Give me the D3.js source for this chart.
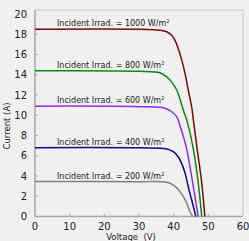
<!DOCTYPE html>
<html>
<head>
<meta charset="utf-8">
<script src="https://cdn.jsdelivr.net/npm/d3@7"></script>
<style>
  body { margin: 0; background: #f0f0f0; }
  svg { display: block; font-family: "DejaVu Sans", sans-serif; }
</style>
</head>
<body>
<div class="chart"></div>
<script>
// irradiance levels, label text and curve colours
var irradiance = [1000, 800, 600, 400, 200];
var colors = ["#7b0a0a", "#0a8a0a", "#8f2cf0", "#0a0a8c", "#808080"];

// I-V curves: [voltage, current]
var curve1000 = [[0, 18.5], [30, 18.5], [36, 18.4], [38, 18.25], [39.4, 17.9], [40.4, 17.4], [41.3, 16.6], [42.3, 15.5],
  [43.3, 14.1], [44.2, 12.5], [45.2, 10.8], [45.7, 9.5], [46.8, 6.6], [48.1, 3.3], [49.0, 0]];
var curve800 = [[0, 14.4], [30, 14.35], [36, 14.2], [38, 13.8], [39.4, 13.3], [40.9, 12.5], [41.9, 11.5], [42.8, 10.5],
  [43.8, 9.5], [45.7, 6.6], [47.1, 3.3], [48.1, 0]];
var curve600 = [[0, 10.9], [30, 10.85], [37.5, 10.7], [39.4, 10.35], [40.9, 9.85], [41.8, 9.0], [42.8, 7.9], [43.8, 6.6],
  [44.7, 4.9], [45.7, 2.9], [46.6, 1.0], [47.1, 0]];
var curve400 = [[0, 6.8], [30, 6.78], [38, 6.67], [39.9, 6.4], [41.3, 5.9], [42.3, 5.25], [43.3, 4.27], [44.2, 2.94],
  [45.2, 1.63], [46.4, 0]];
var curve200 = [[0, 3.45], [30, 3.44], [38, 3.38], [39.9, 3.11], [41.3, 2.69], [42.8, 1.96], [43.8, 1.30], [44.7, 0.47],
  [45.5, 0]];
var curves = [curve1000, curve800, curve600, curve400, curve200];

var xTicks = [0, 10, 20, 30, 40, 50, 60];
var yTicks = [0, 2, 4, 6, 8, 10, 12, 14, 16, 18, 20];

var width = 249,
  height = 241;
var mLeft = 35, mRight = 243, mTop = 10, mBottom = 216.5;

var svg = d3.select(".chart").append("svg")
  .attr("width", width)
  .attr("height", height);

var x = d3.scaleLinear().domain([0, 60]).range([mLeft, mRight]);
var y = d3.scaleLinear().domain([0, 20.4]).range([mBottom, mTop]);

// frame: light top/right border
svg.append("path")
  .attr("d", "M" + mLeft + "," + mTop + "H" + mRight + "V" + mBottom)
  .attr("fill", "none")
  .attr("stroke", "#c8c8c8")
  .attr("stroke-width", 1);

// ticks inside the plot
svg.selectAll(".ytick").data(yTicks.slice(1, -1)).enter().append("line")
  .attr("x1", mLeft).attr("x2", mLeft + 3)
  .attr("y1", function (d) { return y(d); }).attr("y2", function (d) { return y(d); })
  .attr("stroke", "#b0b0b0");
svg.selectAll(".xtick").data(xTicks.slice(1, -1)).enter().append("line")
  .attr("y1", mBottom).attr("y2", mBottom - 3)
  .attr("x1", function (d) { return x(d); }).attr("x2", function (d) { return x(d); })
  .attr("stroke", "#b0b0b0");

// axes lines
svg.append("path")
  .attr("d", "M" + mLeft + "," + mTop + "V" + mBottom + "H" + mRight)
  .attr("fill", "none")
  .attr("stroke", "#a8a8a8")
  .attr("stroke-width", 1.5);

// tick labels
svg.selectAll(".ylab").data(yTicks).enter().append("text")
  .attr("x", mLeft - 8)
  .attr("y", function (d) { return y(d); })
  .attr("dy", "0.35em")
  .attr("text-anchor", "end")
  .attr("font-size", 10)
  .attr("fill", "#222")
  .text(function (d) { return d; });
svg.selectAll(".xlab").data(xTicks).enter().append("text")
  .attr("x", function (d) { return x(d); })
  .attr("y", 230)
  .attr("text-anchor", "middle")
  .attr("font-size", 10)
  .attr("fill", "#222")
  .text(function (d) { return d; });

// axis titles
svg.append("text")
  .attr("x", 131).attr("y", 240)
  .attr("text-anchor", "middle")
  .attr("font-size", 8.5)
  .attr("fill", "#222")
  .attr("xml:space", "preserve")
  .text("Voltage  (V)");
svg.append("text")
  .attr("transform", "translate(10,126) rotate(-90)")
  .attr("text-anchor", "middle")
  .attr("font-size", 8.5)
  .attr("fill", "#222")
  .text("Current (A)");

// curves
var line = d3.line()
  .x(function (d) { return x(d[0]); })
  .y(function (d) { return y(d[1]); })
  .curve(d3.curveCatmullRom.alpha(0.5));

svg.selectAll(".curve").data(curves).enter().append("path")
  .attr("d", line)
  .attr("fill", "none")
  .attr("stroke", function (d, i) { return colors[i]; })
  .attr("stroke-width", 1.5);

// labels above each curve
var lab = svg.selectAll(".irr").data(curves).enter().append("text")
  .attr("x", 57)
  .attr("y", function (d) { return y(d[0][1]) - 3; })
  .attr("font-size", 8)
  .attr("fill", "#222");
lab.append("tspan").text(function (d, i) { return "Incident Irrad. = " + irradiance[i] + " W/m"; });
lab.append("tspan").attr("font-size", 5).attr("dy", -3).text("2");
</script>
</body>
</html>
